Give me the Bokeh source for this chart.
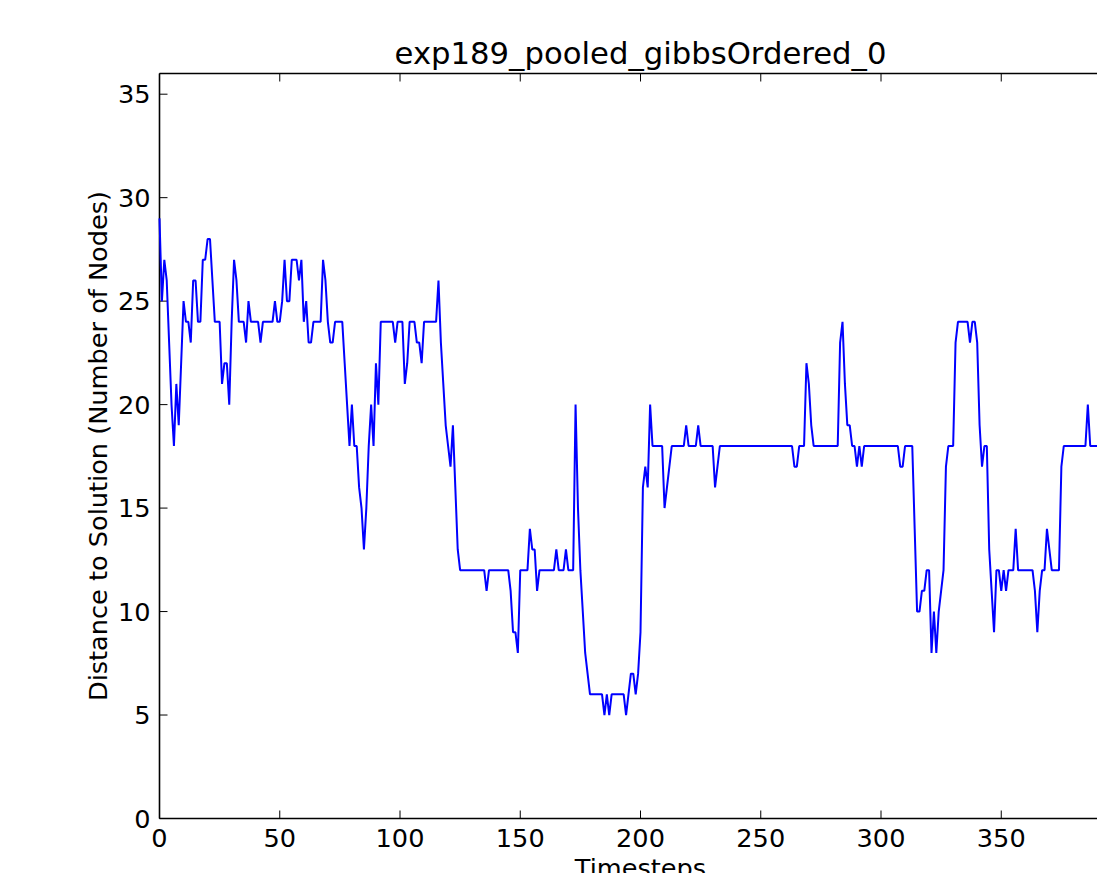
import math
from bokeh.plotting import figure
from bokeh.models import Range1d, ColumnDataSource
from bokeh.embed import file_html
from bokeh.resources import INLINE
from bokeh.core.properties import value

title_text = "exp189_pooled_gibbsOrdered_0"
x_label = "Timesteps"
y_label = "Distance to Solution (Number of Nodes)"

x_ticks = [0, 50, 100, 150, 200, 250, 300, 350]
x_tick_labels = ["0", "50", "100", "150", "200", "250", "300", "350"]
y_ticks = [0, 5, 10, 15, 20, 25, 30, 35]
y_tick_labels = ["0", "5", "10", "15", "20", "25", "30", "35"]
x_lim = [0, 400]
y_lim = [0, 36]

distance = [
    29, 25, 27, 26, 23, 20, 18, 21, 19, 22,
    25, 24, 24, 23, 26, 26, 24, 24, 27, 27,
    28, 28, 26, 24, 24, 24, 21, 22, 22, 20,
    24, 27, 26, 24, 24, 24, 23, 25, 24, 24,
    24, 24, 23, 24, 24, 24, 24, 24, 25, 24,
    24, 25, 27, 25, 25, 27, 27, 27, 26, 27,
    24, 25, 23, 23, 24, 24, 24, 24, 27, 26,
    24, 23, 23, 24, 24, 24, 24, 22, 20, 18,
    20, 18, 18, 16, 15, 13, 15, 18, 20, 18,
    22, 20, 24, 24, 24, 24, 24, 24, 23, 24,
    24, 24, 21, 22, 24, 24, 24, 23, 23, 22,
    24, 24, 24, 24, 24, 24, 26, 23, 21, 19,
    18, 17, 19, 16, 13, 12, 12, 12, 12, 12,
    12, 12, 12, 12, 12, 12, 11, 12, 12, 12,
    12, 12, 12, 12, 12, 12, 11, 9, 9, 8,
    12, 12, 12, 12, 14, 13, 13, 11, 12, 12,
    12, 12, 12, 12, 12, 13, 12, 12, 12, 13,
    12, 12, 12, 20, 15, 12, 10, 8, 7, 6,
    6, 6, 6, 6, 6, 5, 6, 5, 6, 6,
    6, 6, 6, 6, 5, 6, 7, 7, 6, 7,
    9, 16, 17, 16, 20, 18, 18, 18, 18, 18,
    15, 16, 17, 18, 18, 18, 18, 18, 18, 19,
    18, 18, 18, 18, 19, 18, 18, 18, 18, 18,
    18, 16, 17, 18, 18, 18, 18, 18, 18, 18,
    18, 18, 18, 18, 18, 18, 18, 18, 18, 18,
    18, 18, 18, 18, 18, 18, 18, 18, 18, 18,
    18, 18, 18, 18, 17, 17, 18, 18, 18, 22,
    21, 19, 18, 18, 18, 18, 18, 18, 18, 18,
    18, 18, 18, 23, 24, 21, 19, 19, 18, 18,
    17, 18, 17, 18, 18, 18, 18, 18, 18, 18,
    18, 18, 18, 18, 18, 18, 18, 18, 17, 17,
    18, 18, 18, 18, 14, 10, 10, 11, 11, 12,
    12, 8, 10, 8, 10, 11, 12, 17, 18, 18,
    18, 23, 24, 24, 24, 24, 24, 23, 24, 24,
    23, 19, 17, 18, 18, 13, 11, 9, 12, 12,
    11, 12, 11, 12, 12, 12, 14, 12, 12, 12,
    12, 12, 12, 12, 11, 9, 11, 12, 12, 14,
    13, 12, 12, 12, 12, 17, 18, 18, 18, 18,
    18, 18, 18, 18, 18, 18, 20, 18, 18, 18,
    18, 18,
]
timesteps = list(range(len(distance)))

FONT = value("DejaVu Sans")
TICK_SIZE = "25.6px"
W, H = 1097, 873

# axes box in window pixels: left 159, top 73, bottom 818, right 1121 (beyond the window)
LEFT, TOP, BOTTOM, RIGHT = 159, 73, 818, 1121
KX = (RIGHT - LEFT) / (x_lim[1] - x_lim[0])   # px per x unit
KY = (BOTTOM - TOP) / (y_lim[1] - y_lim[0])   # px per y unit
TICK = 8  # inward tick length in px

p = figure(width=W, height=H,
           x_range=Range1d(x_lim[0] - LEFT / KX, x_lim[0] + (W - LEFT) / KX),
           y_range=Range1d(y_lim[0] - (H - BOTTOM) / KY, y_lim[1] + TOP / KY),
           output_backend="svg", toolbar_location=None, title=None,
           x_axis_location=None, y_axis_location=None,
           min_border_left=0, min_border_right=0, min_border_top=0, min_border_bottom=0)
p.outline_line_color = None
p.background_fill_color = "white"
p.border_fill_color = "white"
p.xgrid.visible = False
p.ygrid.visible = False

# spines
x0, x1 = x_lim
y0, y1 = y_lim
p.segment(x0=[x0, x0, x0, x1], y0=[y0, y1, y0, y0], x1=[x1, x1, x0, x1], y1=[y0, y1, y1, y1],
          line_color="black", line_width=1.6)

# inward ticks: bottom & top
n = len(x_ticks)
p.segment(x0=x_ticks, y0=[y0] * n, x1=x_ticks, y1=[y0 + TICK / KY] * n, line_color="black", line_width=1)
p.segment(x0=x_ticks, y0=[y1] * n, x1=x_ticks, y1=[y1 - TICK / KY] * n, line_color="black", line_width=1)
# inward ticks: left & right
m = len(y_ticks)
p.segment(x0=[x0] * m, y0=y_ticks, x1=[x0 + TICK / KX] * m, y1=y_ticks, line_color="black", line_width=1)
p.segment(x0=[x1] * m, y0=y_ticks, x1=[x1 - TICK / KX] * m, y1=y_ticks, line_color="black", line_width=1)

# tick labels
p.text(x=x_ticks, y=[y0] * n, text=x_tick_labels, y_offset=19,
       text_align="center", text_baseline="middle",
       text_font=FONT, text_font_size=TICK_SIZE, text_color="black")
p.text(x=[x0] * m, y=y_ticks, text=y_tick_labels, x_offset=-9,
       text_align="right", text_baseline="middle",
       text_font=FONT, text_font_size=TICK_SIZE, text_color="black")

# axis labels and title
xc = (x0 + x1) / 2
yc = (y0 + y1) / 2
p.text(x=[xc], y=[y0], text=[x_label], y_offset=49,
       text_align="center", text_baseline="middle",
       text_font=FONT, text_font_size=TICK_SIZE, text_color="black")
p.text(x=[x0], y=[yc], text=[y_label], x_offset=-62, angle=math.pi / 2,
       text_align="center", text_baseline="middle",
       text_font=FONT, text_font_size=TICK_SIZE, text_color="black")
p.text(x=[xc], y=[y1], text=[title_text], y_offset=-20,
       text_align="center", text_baseline="middle",
       text_font=FONT, text_font_size="30.7px", text_color="black")

src = ColumnDataSource(dict(t=timesteps, v=distance))
p.line(x="t", y="v", source=src, line_color="#0000ff", line_width=2)

open("out.html", "w").write(file_html(p, INLINE))
